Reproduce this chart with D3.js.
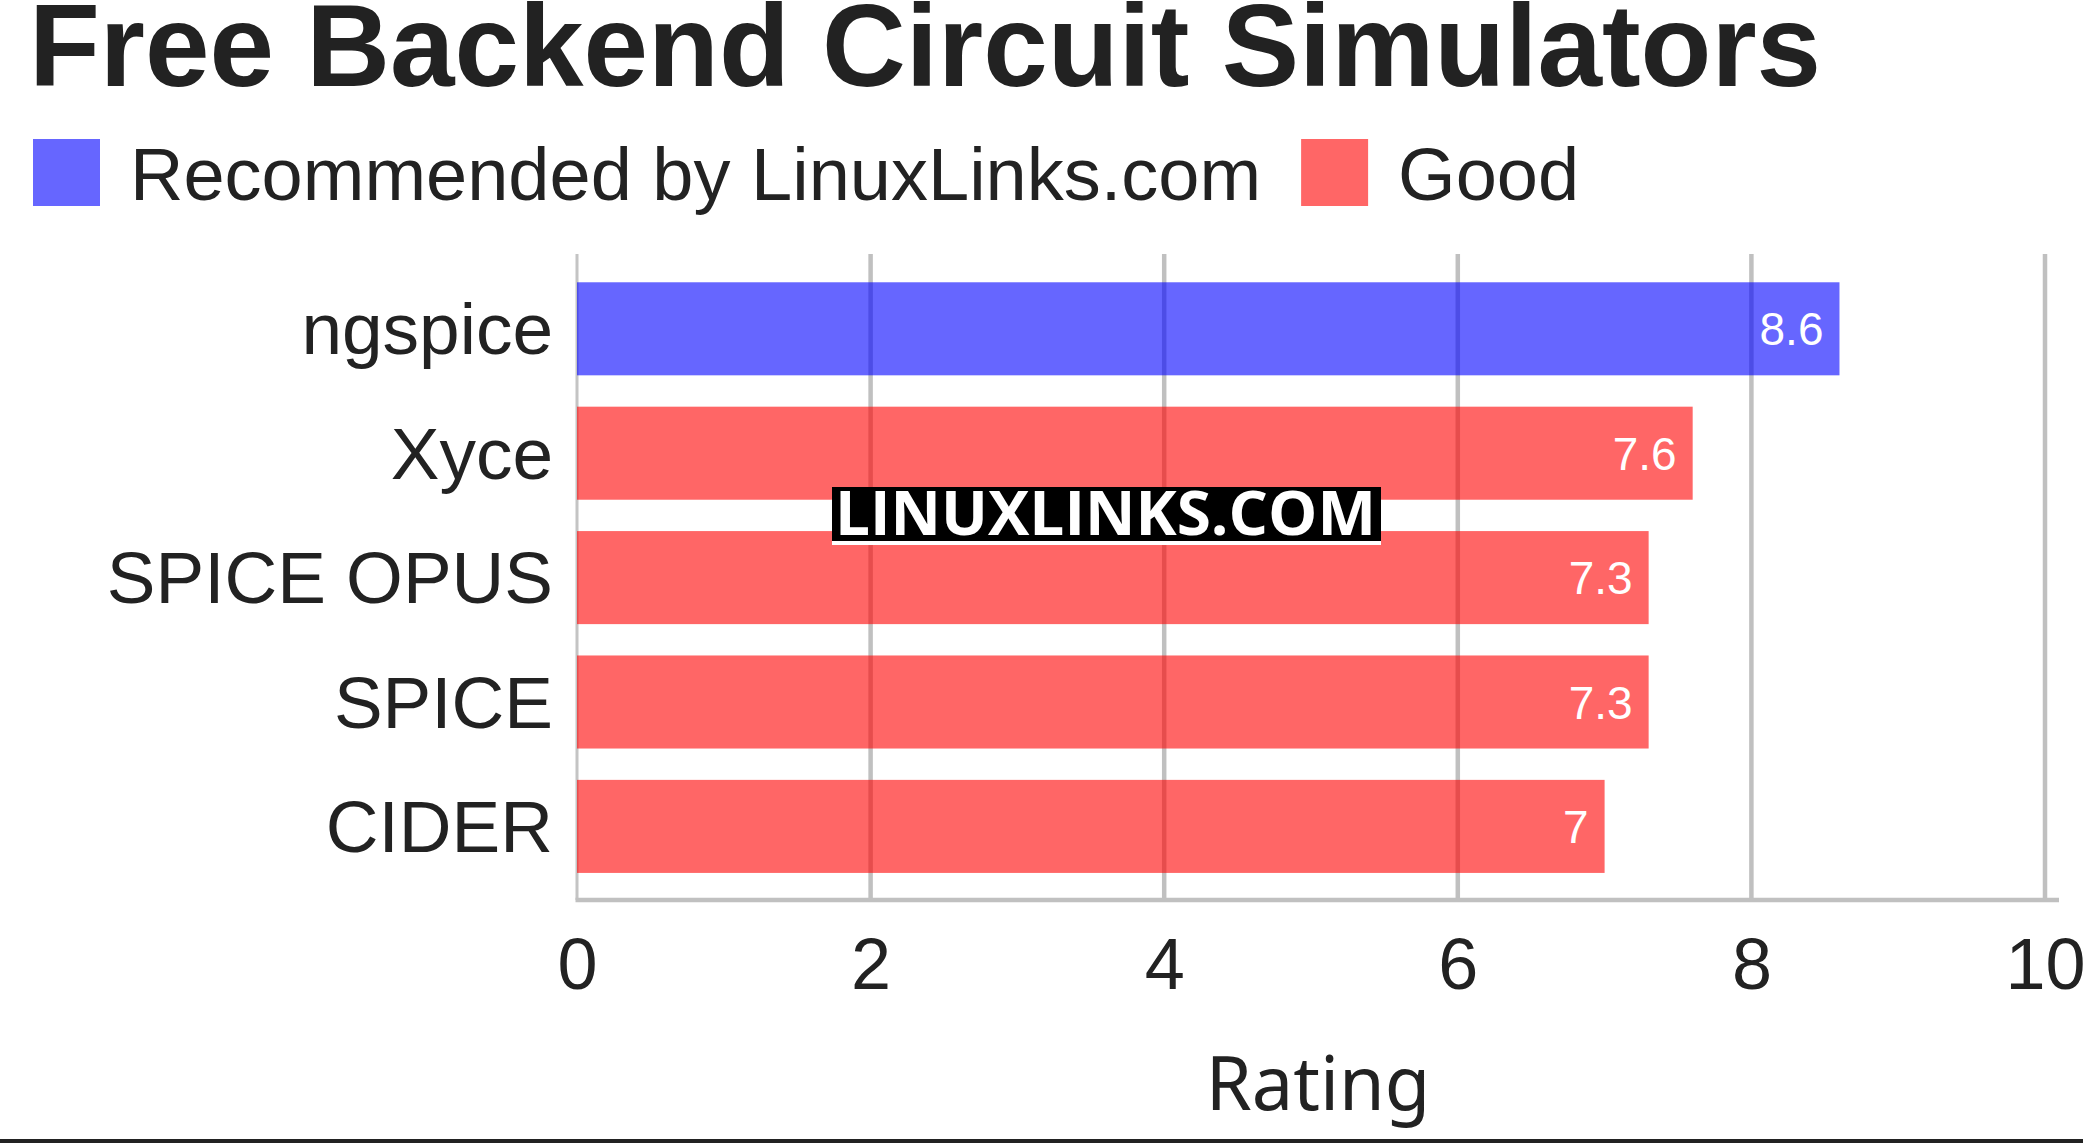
<!DOCTYPE html>
<html>
<head>
<meta charset="utf-8">
<script src="https://cdn.jsdelivr.net/npm/d3@7"></script>
<style>
  html, body { margin: 0; padding: 0; background: #fff; overflow: hidden; }
  svg { display: block; }
</style>
</head>
<body>
<script>
const title = "Free Backend Circuit Simulators";
const categories = ["ngspice", "Xyce", "SPICE OPUS", "SPICE", "CIDER"];
const ratings = [8.6, 7.6, 7.3, 7.3, 7];
const groups = ["Recommended by LinuxLinks.com", "Good", "Good", "Good", "Good"];
const legendLabels = ["Recommended by LinuxLinks.com", "Good"];
const xTicks = [0, 2, 4, 6, 8, 10];
const xAxisTitle = "Rating";
const watermark = "LINUXLINKS.COM";

const W = 2083, H = 1143;
const textColor = "#222222";
const sansFont = "'Liberation Sans', Arial, sans-serif";
const color = d3.scaleOrdinal().domain(legendLabels).range(["#0000ff", "#ff0000"]);

const svg = d3.select("body").append("svg").attr("width", W).attr("height", H);

// Title
svg.append("text")
  .attr("x", 29).attr("y", 86)
  .attr("font-family", sansFont).attr("font-weight", "bold")
  .attr("font-size", 116).attr("fill", textColor)
  .text(title);

// Legend
const legend = svg.append("g");
let lx = 33;
legendLabels.forEach((lab) => {
  legend.append("rect")
    .attr("x", lx).attr("y", 139).attr("width", 67).attr("height", 67)
    .attr("fill", color(lab)).attr("fill-opacity", 0.6);
  const t = legend.append("text")
    .attr("x", lx + 97).attr("y", 200)
    .attr("font-family", sansFont).attr("font-size", 74).attr("fill", textColor)
    .text(lab);
  lx = lx + 97 + t.node().getComputedTextLength() + 40;
});

// Scales
const x = d3.scaleLinear().domain([0, 10]).range([577, 2045]);
const y = d3.scaleBand().domain(categories).range([266.6, 888.6])
  .paddingInner(0.252).paddingOuter(0.126);
const plotTop = 254, plotBottom = 900;

// Gridlines
svg.append("g").selectAll("line").data(xTicks.filter(d => d !== 0)).join("line")
  .attr("x1", d => x(d)).attr("x2", d => x(d))
  .attr("y1", plotTop).attr("y2", plotBottom)
  .attr("stroke", "#c0c0c0").attr("stroke-width", 4.5);
svg.append("line")
  .attr("x1", x(0)).attr("x2", x(0)).attr("y1", plotTop).attr("y2", plotBottom)
  .attr("stroke", "#c4c4c4").attr("stroke-width", 3);

// Bars
svg.append("g").selectAll("rect").data(categories).join("rect")
  .attr("x", x(0))
  .attr("y", d => y(d))
  .attr("width", (d, i) => x(ratings[i]) - x(0))
  .attr("height", y.bandwidth())
  .attr("fill", (d, i) => color(groups[i]))
  .attr("fill-opacity", 0.6);

// Value labels
svg.append("g").selectAll("text").data(categories).join("text")
  .attr("x", (d, i) => x(ratings[i]) - 16)
  .attr("y", d => y(d) + y.bandwidth() / 2)
  .attr("dy", "0.36em")
  .attr("text-anchor", "end")
  .attr("font-family", sansFont).attr("font-size", 46).attr("fill", "#ffffff")
  .text((d, i) => ratings[i]);

// Baseline (x axis line)
svg.append("line")
  .attr("x1", x(0) - 1.5).attr("x2", 2059).attr("y1", plotBottom).attr("y2", plotBottom)
  .attr("stroke", "#c0c0c0").attr("stroke-width", 4.5);

// X axis tick labels via d3 axis
const xAxis = d3.axisBottom(x).tickValues(xTicks).tickSize(0).tickPadding(0).tickFormat(d3.format("d"));
const gx = svg.append("g").attr("transform", `translate(0, ${989})`).call(xAxis);
gx.select(".domain").remove();
gx.selectAll("text")
  .attr("y", 0).attr("dy", 0)
  .attr("font-family", sansFont).attr("font-size", 72).attr("fill", textColor);

// Y axis category labels via d3 axis
const yAxis = d3.axisLeft(y).tickSize(0).tickPadding(0);
const gy = svg.append("g").attr("transform", `translate(553, 0)`).call(yAxis);
gy.select(".domain").remove();
gy.selectAll("text")
  .attr("x", 0).attr("dy", "0.35em")
  .attr("font-family", sansFont).attr("font-size", 73).attr("fill", textColor);

// Axis title
svg.append("text")
  .attr("x", 1318).attr("y", 1110)
  .attr("text-anchor", "middle")
  .attr("font-family", "'Noto Sans', 'Open Sans', sans-serif").attr("font-size", 74)
  .attr("fill", textColor)
  .text(xAxisTitle);

// Watermark
const wm = svg.append("g");
wm.append("rect").attr("x", 832).attr("y", 541).attr("width", 549).attr("height", 4).attr("fill", "#ffffff");
wm.append("rect").attr("x", 832).attr("y", 487).attr("width", 549).attr("height", 54).attr("fill", "#000000");
wm.append("text")
  .attr("x", 835).attr("y", 535)
  .attr("font-family", "'Open Sans', 'Noto Sans', sans-serif").attr("font-weight", 700)
  .attr("font-size", 60).attr("fill", "#ffffff")
  .attr("textLength", 541).attr("lengthAdjust", "spacingAndGlyphs")
  .text(watermark);

// Bottom border
svg.append("rect").attr("x", 0).attr("y", 1139).attr("width", W).attr("height", 4).attr("fill", "#222222");
</script>
</body>
</html>
